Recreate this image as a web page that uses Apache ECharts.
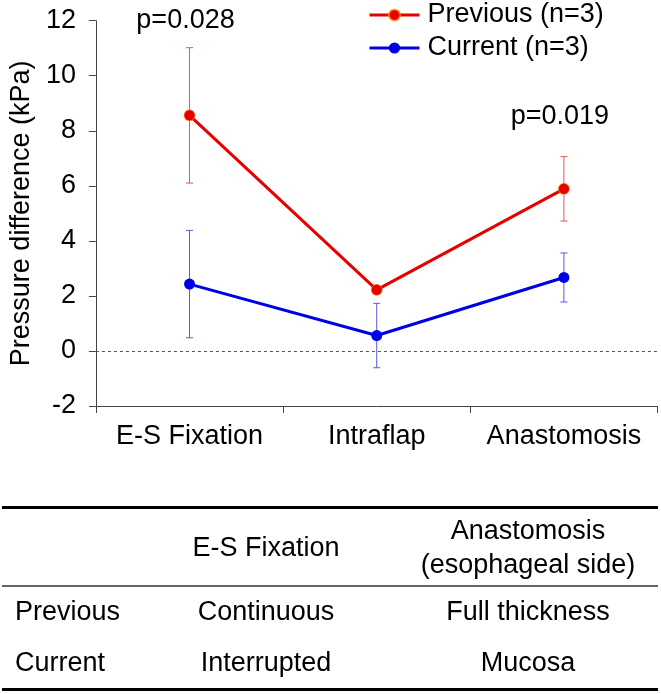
<!DOCTYPE html>
<html>
<head>
<meta charset="utf-8">
<script src="https://cdn.jsdelivr.net/npm/echarts@6/dist/echarts.min.js"></script>
<style>
html,body{margin:0;padding:0;background:#fff;}
#chart{width:661px;height:694px;}
</style>
</head>
<body>
<div id="chart"></div>
<script>
// ---- data ----
const categories = ['E-S Fixation', 'Intraflap', 'Anastomosis'];
const prevMean = [8.56, 2.22, 5.89];
const prevSD = [2.46, 0.0, 1.17];
const currMean = [2.43, 0.56, 2.67];
const currSD = [1.95, 1.17, 0.89];
const pLabels = ['p=0.028', '', 'p=0.019'];
const pLabelY = [12.0, null, 8.5];
const yTicks = { min: -2, max: 12, interval: 2 };
const seriesNames = ['Previous (n=3)', 'Current (n=3)'];
const tableHeader = ['', 'E-S Fixation', 'Anastomosis\n(esophageal side)'];
const tableRows = [
  ['Previous', 'Continuous', 'Full thickness'],
  ['Current', 'Interrupted', 'Mucosa']
];

// ---- style ----
const FONT = '"Liberation Sans", Arial, sans-serif';
const FS = 27;
const RED = '#e60000', BLUE = '#0000e6';
const RED_ERR = '#e05a5a', BLUE_ERR = '#5a5ae0';

function errSeries(means, sds, color) {
  return {
    type: 'custom',
    silent: true,
    z: 1,
    data: means.map((m, i) => [i, m - sds[i], m + sds[i]]),
    renderItem: function (params, api) {
      const x = api.value(0);
      const lo = api.coord([x, api.value(1)]);
      const hi = api.coord([x, api.value(2)]);
      const w = 3.5;
      const st = { stroke: color, lineWidth: 1 };
      return {
        type: 'group',
        children: [
          { type: 'line', shape: { x1: lo[0], y1: lo[1], x2: hi[0], y2: hi[1] }, style: st },
          { type: 'line', shape: { x1: lo[0] - w, y1: lo[1], x2: lo[0] + w, y2: lo[1] }, style: st },
          { type: 'line', shape: { x1: hi[0] - w, y1: hi[1], x2: hi[0] + w, y2: hi[1] }, style: st }
        ]
      };
    }
  };
}

const chart = echarts.init(document.getElementById('chart'), null, { renderer: 'canvas' });

// table graphics
const colX = [15, 266, 528];
const graphics = [
  { type: 'line', shape: { x1: 2, y1: 507.5, x2: 658, y2: 507.5 }, style: { stroke: '#000', lineWidth: 3 } },
  { type: 'line', shape: { x1: 2, y1: 586, x2: 658, y2: 586 }, style: { stroke: '#333', lineWidth: 1.5 } },
  { type: 'line', shape: { x1: 2, y1: 689.5, x2: 658, y2: 689.5 }, style: { stroke: '#000', lineWidth: 3 } }
];
tableHeader.forEach((t, c) => {
  if (!t) return;
  graphics.push({
    type: 'text',
    style: { text: t, x: colX[c], y: 549, align: c === 0 ? 'left' : 'center', verticalAlign: 'middle',
      font: FS + 'px ' + FONT, fill: '#000', lineHeight: 34 }
  });
});
const rowY = [613, 664];
tableRows.forEach((row, r) => {
  row.forEach((t, c) => {
    graphics.push({
      type: 'text',
      style: { text: t, x: colX[c], y: rowY[r], align: c === 0 ? 'left' : 'center', verticalAlign: 'middle',
        font: FS + 'px ' + FONT, fill: '#000' }
    });
  });
});

chart.setOption({
  animation: false,
  textStyle: { fontFamily: FONT },
  grid: { left: 92, right: 3.5, top: 20.7, bottom: 288 },
  legend: {
    orient: 'vertical',
    left: 363,
    top: -5,
    itemWidth: 50,
    itemHeight: 14,
    itemGap: 3,
    data: seriesNames,
    lineStyle: { width: 3 },
    textStyle: { fontSize: FS, color: '#000', fontFamily: FONT, lineHeight: 30, padding: [0, 0, 0, 3] }
  },
  xAxis: {
    type: 'category',
    data: categories,
    boundaryGap: true,
    axisLine: { onZero: false, lineStyle: { color: '#444', width: 1 } },
    axisTick: { show: true, length: 7, lineStyle: { color: '#444' } },
    axisLabel: { interval: 0, fontSize: FS, color: '#000', margin: 17, fontFamily: FONT },
    splitLine: { show: false }
  },
  yAxis: {
    type: 'value',
    min: yTicks.min, max: yTicks.max, interval: yTicks.interval,
    name: 'Pressure difference (kPa)',
    nameLocation: 'middle',
    nameGap: 56,
    nameTextStyle: { fontSize: FS, color: '#000', fontFamily: FONT },
    axisLine: { show: true, lineStyle: { color: '#444', width: 1 } },
    axisTick: { show: true, length: 7, lineStyle: { color: '#444' } },
    axisLabel: { fontSize: FS, color: '#000', margin: 20, fontFamily: FONT },
    splitLine: { show: false }
  },
  series: [
    errSeries(prevMean, prevSD, RED_ERR),
    errSeries(currMean, currSD, BLUE_ERR),
    {
      name: seriesNames[0], type: 'line', data: prevMean, z: 3,
      symbol: 'circle', symbolSize: 11,
      lineStyle: { color: RED, width: 3 },
      itemStyle: { color: RED, borderColor: 'rgba(255,150,0,0.6)', borderWidth: 1 },
      markLine: {
        silent: true, symbol: 'none', label: { show: false },
        lineStyle: { color: '#555', type: [3, 3], width: 1 },
        data: [{ yAxis: 0 }]
      }
    },
    {
      name: seriesNames[1], type: 'line', data: currMean, z: 3,
      symbol: 'circle', symbolSize: 11,
      lineStyle: { color: BLUE, width: 3 },
      itemStyle: { color: BLUE }
    },
    {
      type: 'scatter', silent: true, symbol: 'circle', symbolSize: 1,
      itemStyle: { color: 'rgba(0,0,0,0)', opacity: 1 },
      data: pLabelY.map((v, i) => [i, v === null ? '-' : v]),
      label: {
        show: true, position: 'inside',
        formatter: p => pLabels[p.dataIndex],
        offset: [-4, 0],
        fontSize: FS, color: '#000', fontFamily: FONT
      }
    }
  ],
  graphic: graphics
});
</script>
</body>
</html>
